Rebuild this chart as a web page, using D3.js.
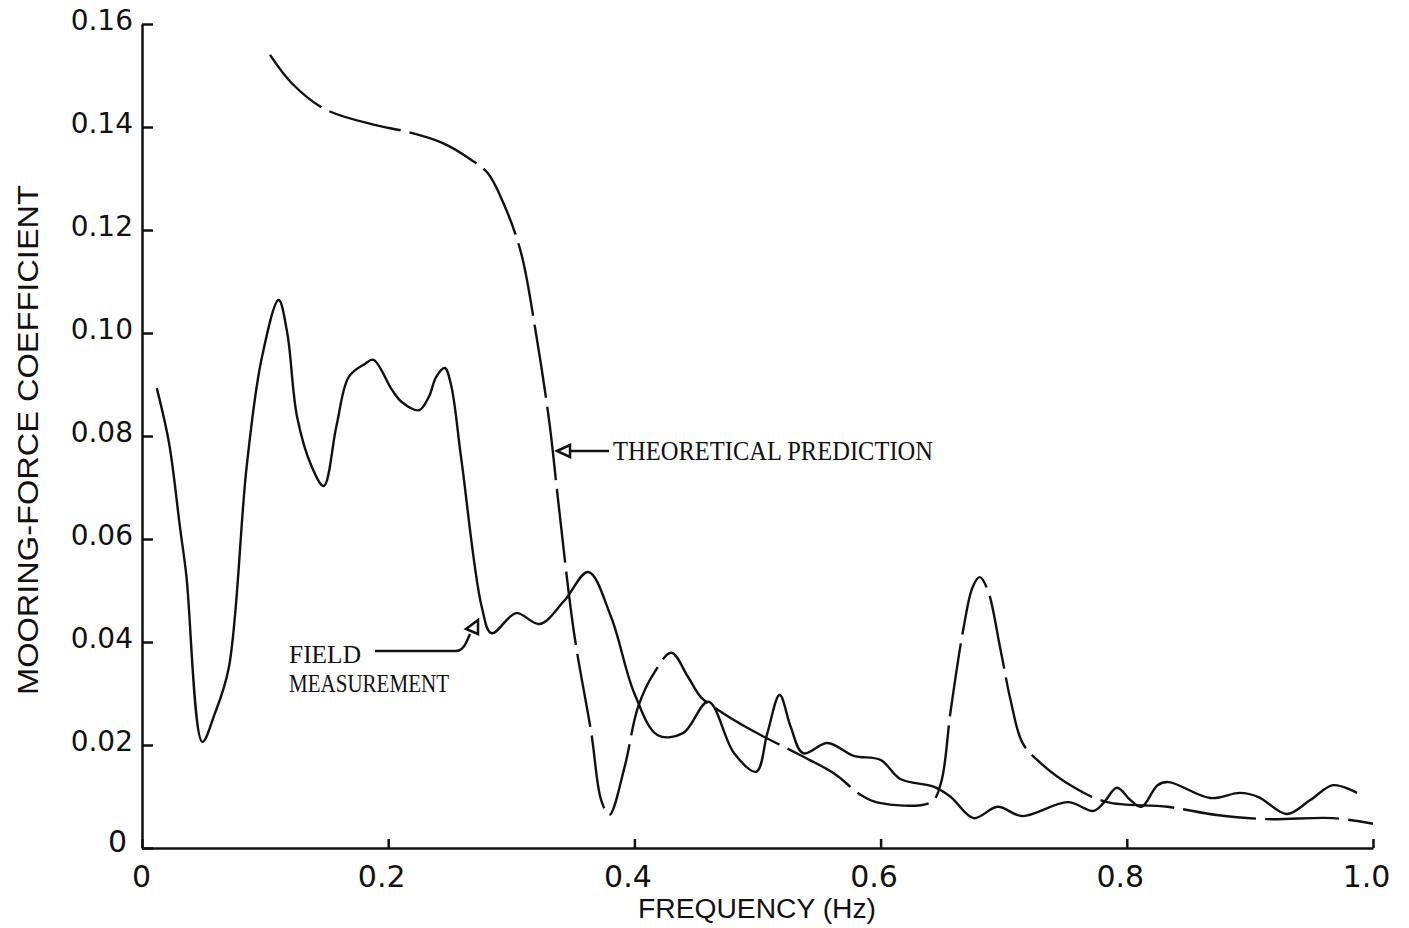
<!DOCTYPE html>
<html>
<head>
<meta charset="utf-8">
<script src="https://cdn.jsdelivr.net/npm/d3@7"></script>
<style>
  html, body { margin: 0; padding: 0; background: #fff; }
  svg { display: block; }
</style>
</head>
<body>
<svg id="chart" width="1409" height="928"></svg>
<script>
// ---- data ----
const fieldFreq = [0.012,0.022,0.031,0.036,0.049,0.059,0.0705,0.085,0.097,0.111,0.118,0.126,0.138,0.1476,0.158,0.168,0.181,0.188,0.203,0.211,0.225,0.233,0.239,0.246,0.251,0.2595,0.276,0.284,0.304,0.323,0.343,0.3625,0.381,0.400,0.419,0.4395,0.460,0.481,0.499,0.508,0.518,0.527,0.537,0.557,0.578,0.600,0.616,0.643,0.657,0.6756,0.695,0.715,0.752,0.773,0.781,0.792,0.803,0.812,0.825,0.834,0.868,0.892,0.907,0.930,0.949,0.9676,0.987];
const fieldValue = [0.0893,0.0786,0.062,0.053,0.0206,0.026,0.035,0.074,0.0948,0.1064,0.100,0.0837,0.074,0.0703,0.082,0.0915,0.094,0.0948,0.089,0.0866,0.085,0.0876,0.0915,0.0932,0.090,0.0753,0.0468,0.0417,0.0456,0.0435,0.048,0.0536,0.0449,0.030,0.0219,0.0223,0.0284,0.0184,0.0148,0.0223,0.0297,0.0235,0.0184,0.0204,0.0179,0.0171,0.0134,0.0119,0.0099,0.0058,0.008,0.0062,0.0089,0.0072,0.0087,0.0117,0.0093,0.008,0.0122,0.0128,0.0097,0.0107,0.0099,0.0066,0.0093,0.0122,0.0107];

const theoryFreq = [0.104,0.1217,0.1484,0.189,0.213,0.243,0.2676,0.281,0.294,0.308,0.320,0.331,0.338,0.351,0.365,0.373,0.3796,0.392,0.403,0.416,0.430,0.4436,0.454,0.468,0.495,0.535,0.562,0.584,0.598,0.641,0.649,0.657,0.6675,0.6748,0.6805,0.687,0.6975,0.7056,0.7153,0.730,0.757,0.784,0.833,0.873,0.914,0.9676,1.0];
const theoryValue = [0.154,0.1485,0.1435,0.1404,0.1392,0.137,0.1336,0.131,0.125,0.1155,0.100,0.0825,0.0676,0.0417,0.0223,0.0093,0.0064,0.0157,0.0274,0.034,0.0379,0.0332,0.0293,0.0268,0.0229,0.018,0.0145,0.0103,0.0088,0.0089,0.0126,0.0268,0.0429,0.0507,0.0526,0.0501,0.0384,0.0287,0.0204,0.0165,0.0118,0.0089,0.008,0.0064,0.0056,0.0058,0.0047];

const xTicks = [0, 0.2, 0.4, 0.6, 0.8, 1.0];
const xTickLabels = ["0", "0.2", "0.4", "0.6", "0.8", "1.0"];
const yTicks = [0, 0.02, 0.04, 0.06, 0.08, 0.10, 0.12, 0.14, 0.16];
const yTickLabels = ["0", "0.02", "0.04", "0.06", "0.08", "0.10", "0.12", "0.14", "0.16"];

const xTitle = "FREQUENCY (Hz)";
const yTitle = "MOORING-FORCE COEFFICIENT";
const theoryLabel = ["THEORETICAL PREDICTION"];
const fieldLabel = ["FIELD", "MEASUREMENT"];

// ---- drawing ----
const svg = d3.select("#chart");
const x = d3.scaleLinear().domain([0, 1]).range([142, 1373]);
const y = d3.scaleLinear().domain([0, 0.16]).range([848, 24]);

const ink = "#111";

// axes
const xAxis = d3.axisBottom(x).tickValues(xTicks).tickSizeInner(-9).tickSizeOuter(0)
  .tickFormat((d, i) => xTickLabels[i]).tickPadding(12);
const gx = svg.append("g").attr("transform", `translate(0,${y(0)})`).call(xAxis);
gx.select(".domain").attr("stroke", ink).attr("stroke-width", 2.5);
gx.selectAll(".tick line").attr("stroke", ink).attr("stroke-width", 2.5);
gx.selectAll(".tick text")
  .attr("fill", ink)
  .attr("font-family", "DejaVu Sans, sans-serif")
  .attr("font-size", 30)
  .attr("dy", "0.9em")
  .attr("dx", (d) => d === 0 ? -1 : -7);

const yAxis = d3.axisLeft(y).tickValues(yTicks).tickSizeInner(-11).tickSizeOuter(0)
  .tickFormat((d, i) => yTickLabels[i]).tickPadding(9);
const gy = svg.append("g").attr("transform", `translate(${x(0)},0)`).call(yAxis);
gy.select(".domain").attr("stroke", ink).attr("stroke-width", 2.5);
gy.selectAll(".tick line").attr("stroke", ink).attr("stroke-width", 2.5);
gy.selectAll(".tick text")
  .attr("fill", ink)
  .attr("font-family", "DejaVu Sans, sans-serif")
  .attr("font-size", 28)
  .attr("dy", (d) => d === 0 ? "0.1em" : "0.2em");
// the zero label on the y axis sits slightly up-left
gy.selectAll(".tick").filter(d => d === 0).select("text").attr("x", -15).attr("font-size", 30);

// axis titles
svg.append("text")
  .attr("x", 757).attr("y", 918)
  .attr("text-anchor", "middle")
  .attr("font-family", "Liberation Sans Narrow, Liberation Sans, Arial Narrow, sans-serif")
  .attr("font-size", 27)
  .attr("textLength", 238).attr("lengthAdjust", "spacingAndGlyphs")
  .attr("fill", ink)
  .text(xTitle);

svg.append("text")
  .attr("transform", "translate(38,440) rotate(-90)")
  .attr("text-anchor", "middle")
  .attr("font-family", "Liberation Sans Narrow, Liberation Sans, sans-serif")
  .attr("font-size", 29)
  .attr("textLength", 510).attr("lengthAdjust", "spacingAndGlyphs")
  .attr("fill", ink)
  .text(yTitle);

// curves
const line = d3.line().curve(d3.curveCatmullRom.alpha(0.5));

svg.append("path")
  .datum(fieldFreq.map((f, i) => [x(f), y(fieldValue[i])]))
  .attr("d", line)
  .attr("fill", "none")
  .attr("stroke", ink)
  .attr("stroke-width", 2.4)
  .attr("stroke-linejoin", "round");

svg.append("path")
  .datum(theoryFreq.map((f, i) => [x(f), y(theoryValue[i])]))
  .attr("d", line)
  .attr("fill", "none")
  .attr("stroke", ink)
  .attr("stroke-width", 2.4)
  .attr("stroke-dasharray", "74,9");

// annotations
const serif = "Liberation Serif, DejaVu Serif, serif";
svg.append("text")
  .attr("x", 613).attr("y", 460)
  .attr("font-family", serif).attr("font-size", 27)
  .attr("textLength", 320).attr("lengthAdjust", "spacingAndGlyphs")
  .attr("fill", ink)
  .text(theoryLabel[0]);

svg.append("text")
  .attr("x", 289).attr("y", 663)
  .attr("font-family", serif).attr("font-size", 25)
  .attr("textLength", 72).attr("lengthAdjust", "spacingAndGlyphs")
  .attr("fill", ink)
  .text(fieldLabel[0]);
svg.append("text")
  .attr("x", 289).attr("y", 692)
  .attr("font-family", serif).attr("font-size", 26)
  .attr("textLength", 160).attr("lengthAdjust", "spacingAndGlyphs")
  .attr("fill", ink)
  .text(fieldLabel[1]);

// arrow for theoretical prediction
svg.append("line")
  .attr("x1", 568).attr("y1", 451).attr("x2", 609).attr("y2", 451)
  .attr("stroke", ink).attr("stroke-width", 2.5);
svg.append("path")
  .attr("d", "M557,451 L570,445 L570,457 Z")
  .attr("fill", "#fff").attr("stroke", ink).attr("stroke-width", 2.5)
  .attr("stroke-linejoin", "miter");

// arrow for field measurement
svg.append("path")
  .attr("d", "M375,651 L456,651 Q462,651 466,643 L470,634")
  .attr("fill", "none").attr("stroke", ink).attr("stroke-width", 2.5);
svg.append("path")
  .attr("d", "M478,620 L478,634 L466,629 Z")
  .attr("fill", "#fff").attr("stroke", ink).attr("stroke-width", 2.5);
</script>
</body>
</html>
